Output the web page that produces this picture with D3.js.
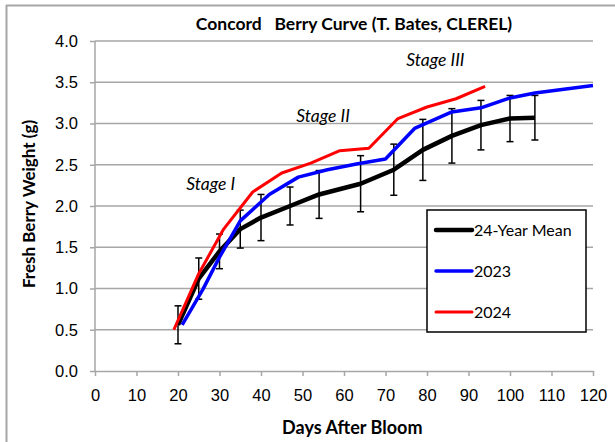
<!DOCTYPE html>
<html>
<head>
<meta charset="utf-8">
<script src="https://cdn.jsdelivr.net/npm/d3@7"></script>
<style>
  body { margin: 0; background: #fff; }
  svg { font-family: Lato, "Open Sans", sans-serif; }
  .grid line { stroke: #a6a6a6; stroke-width: 1.5; }
  .axis path, .axis line { stroke: #a6a6a6; stroke-width: 1.5; }
  .axis text { font-size: 16.5px; fill: #000; }
</style>
</head>
<body>
<div id="chart"></div>
<script>
// 24-year mean
var meanDays = [20, 25, 30, 35, 40, 47, 54, 64, 72, 79, 86, 93, 100, 106];
var meanWt   = [0.56, 1.12, 1.45, 1.72, 1.86, 2.00, 2.14, 2.27, 2.44, 2.68, 2.85, 2.98, 3.06, 3.07];
var meanSd   = [0.23, 0.25, 0.21, 0.23, 0.28, 0.23, 0.29, 0.34, 0.31, 0.37, 0.33, 0.30, 0.28, 0.27];

var days2023 = [21, 26, 30, 35, 42, 49, 56, 63, 70, 77, 86, 93, 100, 106, 120];
var wt2023   = [0.56, 0.99, 1.38, 1.82, 2.14, 2.35, 2.44, 2.51, 2.57, 2.94, 3.14, 3.19, 3.31, 3.37, 3.46];

var days2024 = [19, 25, 31, 38, 45, 52, 59, 66, 73, 80, 87, 94];
var wt2024   = [0.50, 1.18, 1.72, 2.17, 2.40, 2.52, 2.67, 2.70, 3.06, 3.20, 3.30, 3.45];

var seriesNames = ["24-Year Mean", "2023", "2024"];
var seriesColors = ["#000000", "#0000ff", "#ff0000"];

var stages = [
  {label: "Stage I", day: 22, wt: 2.2},
  {label: "Stage II", day: 48.5, wt: 3.02},
  {label: "Stage III", day: 75, wt: 3.7}
];

var width = 615, height = 442;
var margin = {top: 41, right: 22, bottom: 71, left: 95};

var svg = d3.select("#chart").append("svg")
    .attr("width", width)
    .attr("height", height);

// outer frame (top and left edges visible)
svg.append("line").attr("x1", 6).attr("x2", width).attr("y1", 5.5).attr("y2", 5.5)
    .attr("stroke", "#a6a6a6").attr("stroke-width", 2);
svg.append("line").attr("x1", 6.5).attr("x2", 6.5).attr("y1", 5).attr("y2", height)
    .attr("stroke", "#a6a6a6").attr("stroke-width", 2);

var x = d3.scaleLinear().domain([0, 120]).range([margin.left, width - margin.right]);
var y = d3.scaleLinear().domain([0, 4]).range([height - margin.bottom, margin.top]);

// horizontal gridlines
svg.append("g").attr("class", "grid")
  .selectAll("line")
  .data(d3.range(0.5, 4.01, 0.5))
  .enter().append("line")
    .attr("x1", x(0)).attr("x2", x(120))
    .attr("y1", function(d) { return y(d); })
    .attr("y2", function(d) { return y(d); });

var xAxis = svg.append("g").attr("class", "axis")
    .attr("transform", "translate(0," + y(0) + ")")
    .call(d3.axisBottom(x).tickValues(d3.range(0, 121, 10)).tickSize(5).tickSizeOuter(0).tickPadding(13));

var yAxis = svg.append("g").attr("class", "axis")
    .attr("transform", "translate(" + x(0) + ",0)")
    .call(d3.axisLeft(y).tickValues(d3.range(0, 4.01, 0.5)).tickFormat(d3.format(".1f"))
      .tickSize(5).tickSizeOuter(0).tickPadding(12));
yAxis.select(".domain").attr("d", "M0," + y(0) + "V" + y(4));

// titles
svg.append("text")
    .attr("x", 354).attr("y", 30)
    .attr("text-anchor", "middle")
    .style("font-size", "17.5px").style("font-weight", "bold")
    .attr("xml:space", "preserve")
    .text("Concord   Berry Curve (T. Bates, CLEREL)");

svg.append("text")
    .attr("x", x(62)).attr("y", 434)
    .attr("text-anchor", "middle")
    .style("font-size", "18px").style("font-weight", "bold")
    .text("Days After Bloom");

svg.append("text")
    .attr("transform", "translate(35," + (y(2) - 2) + ") rotate(-90)")
    .attr("text-anchor", "middle")
    .style("font-size", "17px").style("font-weight", "bold")
    .text("Fresh Berry Weight (g)");

// stage labels
svg.selectAll(".stage")
  .data(stages)
  .enter().append("text")
    .attr("class", "stage")
    .attr("x", function(d) { return x(d.day); })
    .attr("y", function(d) { return y(d.wt); })
    .style("font-size", "17.5px").style("font-style", "italic")
    .text(function(d) { return d.label; });

// error bars for the mean
var meanPts = meanDays.map(function(d, i) { return {day: d, wt: meanWt[i], sd: meanSd[i]}; });
var bars = svg.append("g").attr("class", "errbars")
  .selectAll("g")
  .data(meanPts)
  .enter().append("g");
bars.append("line")
    .attr("x1", function(d) { return x(d.day); }).attr("x2", function(d) { return x(d.day); })
    .attr("y1", function(d) { return y(d.wt + d.sd); }).attr("y2", function(d) { return y(d.wt - d.sd); })
    .attr("stroke", "#000").attr("stroke-width", 1.5);
bars.append("line")
    .attr("x1", function(d) { return x(d.day) - 3.5; }).attr("x2", function(d) { return x(d.day) + 3.5; })
    .attr("y1", function(d) { return y(d.wt + d.sd); }).attr("y2", function(d) { return y(d.wt + d.sd); })
    .attr("stroke", "#000").attr("stroke-width", 1.5);
bars.append("line")
    .attr("x1", function(d) { return x(d.day) - 3.5; }).attr("x2", function(d) { return x(d.day) + 3.5; })
    .attr("y1", function(d) { return y(d.wt - d.sd); }).attr("y2", function(d) { return y(d.wt - d.sd); })
    .attr("stroke", "#000").attr("stroke-width", 1.5);

var line = d3.line()
    .x(function(d) { return x(d[0]); })
    .y(function(d) { return y(d[1]); });

var seriesData = [
  d3.zip(meanDays, meanWt),
  d3.zip(days2023, wt2023),
  d3.zip(days2024, wt2024)
];
var widths = [4.5, 3.5, 3];

svg.append("g").selectAll("path")
  .data(seriesData)
  .enter().append("path")
    .attr("d", line)
    .attr("fill", "none")
    .attr("stroke", function(d, i) { return seriesColors[i]; })
    .attr("stroke-width", function(d, i) { return widths[i]; })
    .attr("stroke-linejoin", "round");

// legend
var legend = svg.append("g").attr("transform", "translate(427,210)");
legend.append("rect")
    .attr("width", 159).attr("height", 122)
    .attr("fill", "#fff").attr("stroke", "#000").attr("stroke-width", 1.5);

var items = legend.selectAll(".item")
  .data(seriesNames)
  .enter().append("g")
    .attr("class", "item")
    .attr("transform", function(d, i) { return "translate(0," + (20 + i * 41) + ")"; });
items.append("line")
    .attr("x1", 9).attr("x2", 45)
    .attr("stroke", function(d, i) { return seriesColors[i]; })
    .attr("stroke-width", function(d, i) { return widths[i]; })
    .attr("stroke-linecap", "round");
items.append("text")
    .attr("x", 47).attr("y", 5.5)
    .style("font-size", "16px")
    .text(function(d) { return d; });
</script>
</body>
</html>
